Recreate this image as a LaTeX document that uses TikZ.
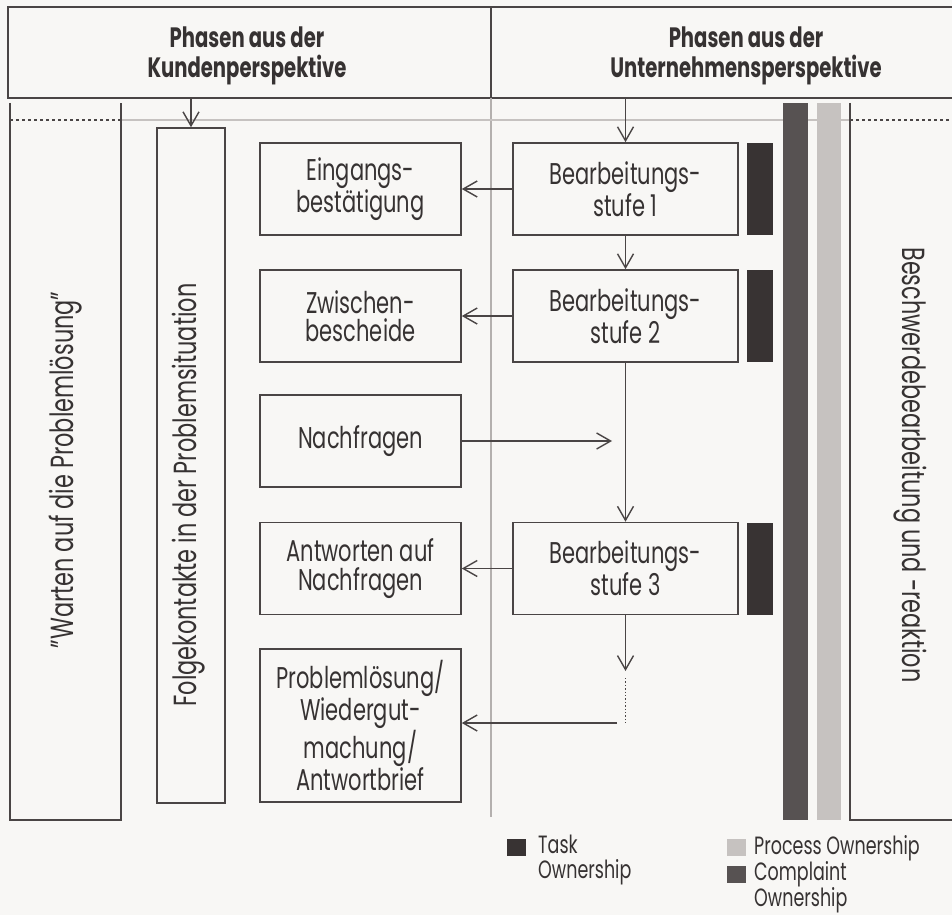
\documentclass[tikz,border=0pt]{standalone}
\usepackage{fontspec}
\setmainfont{Poppins}[FakeStretch=0.7]
\usetikzlibrary{arrows.meta}
\definecolor{linec}{HTML}{4A4545}
\definecolor{textc}{HTML}{363232}
\definecolor{taskc}{HTML}{383333}
\definecolor{complc}{HTML}{575252}
\definecolor{procc}{HTML}{C6C2C0}
\definecolor{divc}{HTML}{B4B0AE}
\definecolor{paper}{HTML}{F8F7F5}
\tikzset{
  bodyfont/.style={font=\fontsize{30}{28.5}\selectfont, text=textc},
  lbox/.style={draw=linec, line width=1.6pt, fill=paper, minimum width=201pt, minimum height=92pt, align=center, inner sep=0pt, bodyfont},
  rbox/.style={lbox, minimum width=225pt},
  taskbar/.style={fill=taskc, minimum width=26pt, minimum height=92pt, inner sep=0pt},
  arr/.style={draw=linec, line width=1.4pt, -{Straight Barb[length=14pt,width=16pt,line width=1.4pt]}},
  sq/.style={minimum width=19pt, minimum height=17pt, inner sep=0pt},
  legtext/.style={font=\fontsize{25}{22.5}\selectfont, text=textc, align=left, inner sep=0pt},
  headtext/.style={font=\fontsize{28}{30}\bfseries\selectfont, text=textc, align=center, inner sep=0pt},
  rottext/.style={font=\fontsize{32}{30}\selectfont, text=textc, inner sep=0pt}
}
\begin{document}
\begin{tikzpicture}[x=1pt,y=-1pt]
\useasboundingbox (0,0) rectangle (952,915);
\fill[paper] (0,0) rectangle (952,915);
% header
\draw[linec, line width=2pt] (952,7) -- (8,7) -- (8,98) -- (952,98);
\draw[linec, line width=1.4pt] (491,7) -- (491,98);
\draw[divc, line width=1.6pt] (491,98) -- (491,817);
\node[headtext] (hleft) at (247,56) {Phasen aus der\\Kundenperspektive};
\node[headtext] (hright) at (746,56) {Phasen aus der\\Unternehmensperspektive};
% horizontal guide lines
\draw[procc, line width=2pt] (121,120) -- (850,120);
\draw[linec, line width=1.2pt, dashed] (10,120) -- (121,120);
\draw[linec, line width=1.2pt, dashed] (850,120) -- (952,120);
% left tall box
\draw[linec, line width=1.6pt] (10,103) -- (10,820) -- (121,820) -- (121,103);
\node[rottext, rotate=90] (warten) at (66,470) {"Warten auf die Problemlösung"};
% Folgekontakte
\node[draw=linec, line width=1.6pt, fill=paper, minimum width=68pt, minimum height=675pt, inner sep=0pt] (folge) at (191,465.5) {};
\node[rottext, rotate=90] (folgetext) at (189,495) {Folgekontakte in der Problemsituation};
% right box and bars
\draw[linec, line width=1.6pt] (850,103) -- (850,820) -- (952,820);
\fill[complc] (783,103) rectangle (808,820);
\fill[procc] (817,103) rectangle (841,820);
\node[rottext, rotate=-90] (besch) at (910,465) {Beschwerdebearbeitung und -reaktion};
% left column boxes
\node[lbox] (eing) at (360.5,189) {Eingangs-\\bestätigung};
\node[lbox] (zw) at (360.5,316) {Zwischen-\\bescheide};
\node[lbox] (nach) at (360.5,441) {Nachfragen};
\node[lbox] (antw) at (360.5,568.5) {Antworten auf\\Nachfragen};
\node[lbox, minimum height=153pt, font=\fontsize{30}{27}\selectfont] (prob) at (360.5,725.5) {Problemlösung/\\Wiedergut-\\machung/\\Antwortbrief};
% right column boxes
\node[rbox] (st1) at (625.5,189) {Bearbeitungs-\\stufe 1};
\node[rbox] (st2) at (625.5,316) {Bearbeitungs-\\stufe 2};
\node[rbox] (st3) at (625.5,568.5) {Bearbeitungs-\\stufe 3};
% task bars
\node[taskbar] (t1) at (760,189) {};
\node[taskbar] (t2) at (760,316) {};
\node[taskbar] (t3) at (760,568.5) {};
% connectors
\coordinate (topL) at (191,99);
\coordinate (topR) at (625.5,99);
\draw[arr] (topL) -- (folge.north);
\draw[arr] (topR) -- (st1.north);
\draw[arr] (st1.south) -- (st2.north);
\draw[arr] (st2.south) -- (st3.north);
\coordinate (d1) at (625.5,671);
\coordinate (dotA) at (625.5,678);
\coordinate (dotB) at (625.5,723);
\coordinate (hstart) at (617,723);
\coordinate (nachtip) at (612,441);
\draw[arr] (st3.south) -- (d1);
\draw[linec, line width=1.4pt, dotted] (dotA) -- (dotB);
\draw[arr] (hstart) -- (hstart -| prob.east);
\draw[arr] (st1.west) -- (eing.east);
\draw[arr] (st2.west) -- (zw.east);
\draw[arr] (nach.east) -- (nachtip);
\draw[arr] (st3.west) -- (antw.east);
% legend
\node[sq, fill=taskc] (lgT) at (516,847.5) {};
\node[legtext, anchor=north west, font=\fontsize{25}{25}\selectfont] (lgTt) at (538,835) {Task\\Ownership};
\node[sq, fill=procc] (lgP) at (736,847.5) {};
\node[legtext, anchor=north west] (lgPt) at (754,835) {Process Ownership};
\node[sq, fill=complc] (lgC) at (736,874) {};
\node[legtext, anchor=north west] (lgCt) at (754,861) {Complaint\\Ownership};
\end{tikzpicture}
\end{document}
